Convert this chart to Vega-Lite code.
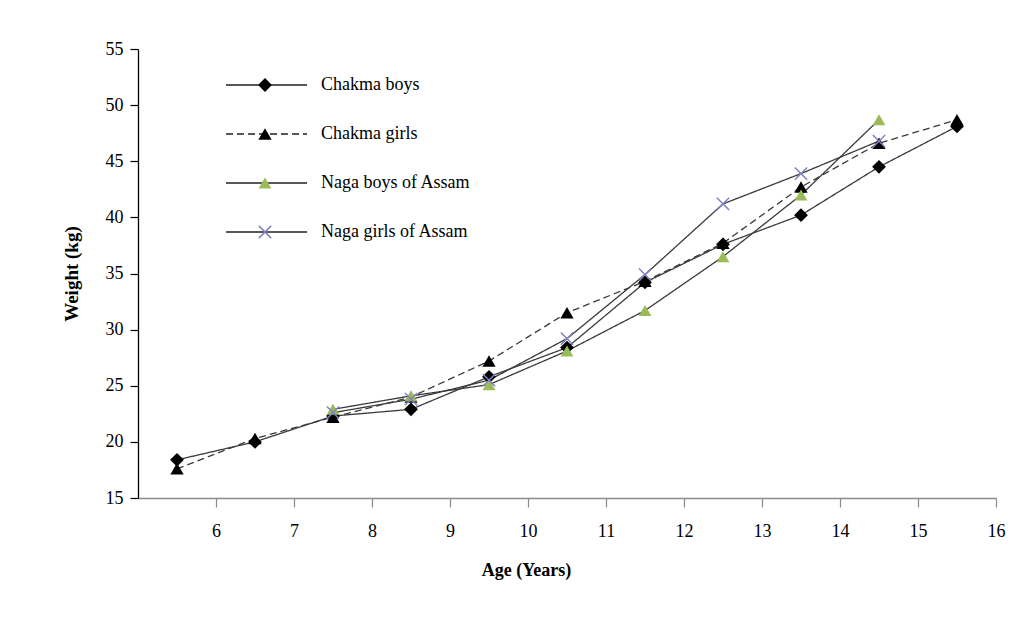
{
  "$schema": "https://vega.github.io/schema/vega-lite/v6.json",
  "width": 858,
  "height": 449,
  "autosize": "none",
  "padding": {"left": 138, "top": 49, "right": 23, "bottom": 131},
  "background": "white",
  "config": {
    "font": "Liberation Serif",
    "view": {"stroke": null},
    "axis": {"grid": false, "labelFont": "Liberation Serif", "titleFont": "Liberation Serif", "labelColor": "#000", "titleColor": "#000"}
  },
  "data": {
    "values": [
      {"series": "Chakma boys", "age": 5.5, "weight": 18.4},
      {"series": "Chakma boys", "age": 6.5, "weight": 20.0},
      {"series": "Chakma boys", "age": 7.5, "weight": 22.3},
      {"series": "Chakma boys", "age": 8.5, "weight": 22.9},
      {"series": "Chakma boys", "age": 9.5, "weight": 25.8},
      {"series": "Chakma boys", "age": 10.5, "weight": 28.4},
      {"series": "Chakma boys", "age": 11.5, "weight": 34.2},
      {"series": "Chakma boys", "age": 12.5, "weight": 37.6},
      {"series": "Chakma boys", "age": 13.5, "weight": 40.2},
      {"series": "Chakma boys", "age": 14.5, "weight": 44.5},
      {"series": "Chakma boys", "age": 15.5, "weight": 48.1},
      {"series": "Chakma girls", "age": 5.5, "weight": 17.6},
      {"series": "Chakma girls", "age": 6.5, "weight": 20.3},
      {"series": "Chakma girls", "age": 7.5, "weight": 22.2},
      {"series": "Chakma girls", "age": 8.5, "weight": 24.0},
      {"series": "Chakma girls", "age": 9.5, "weight": 27.2},
      {"series": "Chakma girls", "age": 10.5, "weight": 31.5},
      {"series": "Chakma girls", "age": 11.5, "weight": 34.3},
      {"series": "Chakma girls", "age": 12.5, "weight": 37.7},
      {"series": "Chakma girls", "age": 13.5, "weight": 42.7},
      {"series": "Chakma girls", "age": 14.5, "weight": 46.6},
      {"series": "Chakma girls", "age": 15.5, "weight": 48.7},
      {"series": "Naga boys of Assam", "age": 7.5, "weight": 22.9},
      {"series": "Naga boys of Assam", "age": 8.5, "weight": 24.1},
      {"series": "Naga boys of Assam", "age": 9.5, "weight": 25.1},
      {"series": "Naga boys of Assam", "age": 10.5, "weight": 28.1},
      {"series": "Naga boys of Assam", "age": 11.5, "weight": 31.7},
      {"series": "Naga boys of Assam", "age": 12.5, "weight": 36.5},
      {"series": "Naga boys of Assam", "age": 13.5, "weight": 42.0},
      {"series": "Naga boys of Assam", "age": 14.5, "weight": 48.7},
      {"series": "Naga girls of Assam", "age": 7.5, "weight": 22.6},
      {"series": "Naga girls of Assam", "age": 8.5, "weight": 23.8},
      {"series": "Naga girls of Assam", "age": 9.5, "weight": 25.5},
      {"series": "Naga girls of Assam", "age": 10.5, "weight": 29.2},
      {"series": "Naga girls of Assam", "age": 11.5, "weight": 34.9},
      {"series": "Naga girls of Assam", "age": 12.5, "weight": 41.2},
      {"series": "Naga girls of Assam", "age": 13.5, "weight": 43.9},
      {"series": "Naga girls of Assam", "age": 14.5, "weight": 46.8}
    ]
  },
  "transform": [{"calculate": "datum.series", "as": "group"}],
  "encoding": {
    "x": {
      "field": "age", "type": "quantitative",
      "scale": {"domain": [5, 16], "nice": false, "zero": false},
      "axis": {
        "values": [6, 7, 8, 9, 10, 11, 12, 13, 14, 15, 16],
        "title": "Age (Years)", "titleFontSize": 18, "titleFontWeight": "bold",
        "titleX": 388, "titlePadding": 21,
        "labelFontSize": 18, "labelPadding": 15, "tickSize": 9,
        "domainColor": "#8a8a8a", "tickColor": "#8a8a8a", "domainWidth": 1.5, "tickWidth": 1.2,
        "labelFlush": false
      }
    },
    "y": {
      "field": "weight", "type": "quantitative",
      "scale": {"domain": [15, 55], "nice": false, "zero": false},
      "axis": {
        "values": [15, 20, 25, 30, 35, 40, 45, 50, 55],
        "title": "Weight (kg)", "titleFontSize": 19, "titleFontWeight": "bold",
        "titlePadding": 24,
        "labelFontSize": 18, "labelPadding": 7, "tickSize": 8,
        "domainColor": "#000", "tickColor": "#000", "domainWidth": 1.3, "tickWidth": 1.2,
        "labelFlush": false
      }
    }
  },
  "layer": [
    {
      "mark": {"type": "line", "color": "#3a3a3a", "strokeWidth": 1.3},
      "encoding": {
        "detail": {"field": "series"},
        "strokeDash": {
          "field": "series", "type": "nominal",
          "scale": {"range": [[1, 0], [7, 4], [1, 0], [1, 0]]},
          "legend": {
            "orient": "none", "legendX": 120, "legendY": 27, "title": null,
            "padding": 0, "rowPadding": 31,
            "symbolType": "M-8.2,0H8", "symbolSize": 100, "symbolStrokeColor": "#222", "symbolStrokeWidth": 1.3,
            "labelFontSize": 18, "labelColor": "#000", "labelOffset": 45, "labelLimit": 300
          }
        }
      }
    },
    {
      "mark": {"type": "point", "filled": true, "opacity": 1},
      "encoding": {
        "shape": {
          "field": "group", "type": "nominal",
          "scale": {"domain": ["Chakma boys", "Chakma girls", "Naga boys of Assam", "Naga girls of Assam"], "range": ["diamond", "triangle-up", "triangle-up", "M-1.085,-0.915L0.915,1.085L1.085,0.915L-0.915,-1.085ZM1.085,-0.915L0.915,-1.085L-1.085,0.915L-0.915,1.085Z"]},
          "legend": {
            "orient": "none", "legendX": 118, "legendY": 27, "title": null,
            "padding": 0, "rowPadding": 31,
            "labelFontSize": 18, "labelColor": "rgba(0,0,0,0)", "labelOffset": 45, "labelLimit": 300
          }
        },
        "color": {
          "field": "group", "type": "nominal",
          "scale": {"domain": ["Chakma boys", "Chakma girls", "Naga boys of Assam", "Naga girls of Assam"], "range": ["#000000", "#000000", "#9bbb59", "#8080c4"]},
          "legend": {
            "orient": "none", "legendX": 118, "legendY": 27, "title": null,
            "padding": 0, "rowPadding": 31,
            "labelFontSize": 18, "labelColor": "rgba(0,0,0,0)", "labelOffset": 45, "labelLimit": 300
          }
        },
        "size": {
          "field": "group", "type": "nominal",
          "scale": {"domain": ["Chakma boys", "Chakma girls", "Naga boys of Assam", "Naga girls of Assam"], "range": [190, 150, 70, 90]},
          "legend": {
            "orient": "none", "legendX": 118, "legendY": 27, "title": null,
            "padding": 0, "rowPadding": 31,
            "labelFontSize": 18, "labelColor": "rgba(0,0,0,0)", "labelOffset": 45, "labelLimit": 300
          }
        }
      }
    }
  ]
}
